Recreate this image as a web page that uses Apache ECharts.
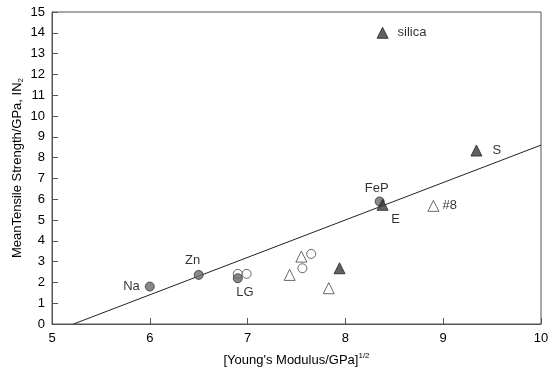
<!DOCTYPE html>
<html>
<head>
<meta charset="utf-8">
<script src="https://cdn.jsdelivr.net/npm/echarts@6/dist/echarts.min.js"></script>
<style>
  html, body { margin: 0; padding: 0; background: #fff; }
  #chart { width: 550px; height: 372px; }
</style>
</head>
<body>
<div id="chart"></div>
<script>
// data: [sqrt(E), strength]
const filledCircles = [[6.0, 1.8], [6.5, 2.36], [6.9, 2.2], [8.35, 5.89]];
const filledCircleNames = ['Na', 'Zn', 'LG', 'FeP'];
const openCircles = [[6.9, 2.41], [6.99, 2.41], [7.56, 2.68], [7.65, 3.37]];
const filledTriangles = [[7.94, 2.68], [8.38, 5.73], [9.34, 8.34], [8.38, 14.0]];
const filledTriangleNames = ['', 'E', 'S', 'silica'];
const openTriangles = [[7.43, 2.36], [7.55, 3.24], [7.83, 1.72], [8.9, 5.68]];
const openTriangleNames = ['', '', '', '#8'];
const fitLine = [[5.22, 0], [10, 8.6]];

const FONT = 'Liberation Sans, Arial, sans-serif';

// label placement for each named point
const labelPos = {
  Na: { position: 'left', distance: 5 },
  Zn: { position: 'top', distance: 3, offset: [-6, 0] },
  LG: { position: 'bottom', distance: 3, offset: [7, 0] },
  FeP: { position: 'top', distance: 2, offset: [-3, 0] },
  E: { position: 'bottom', distance: 2, offset: [13, 0] },
  S: { position: 'right', distance: 10 },
  silica: { position: 'right', distance: 9 },
  '#8': { position: 'right', distance: 3 }
};

function withLabels(points, names) {
  return points.map((p, i) => {
    const n = names[i];
    if (!n) return { value: p };
    return {
      value: p,
      label: Object.assign({ show: true, formatter: n, color: '#000', fontSize: 13, fontFamily: FONT }, labelPos[n])
    };
  });
}

const chart = echarts.init(document.getElementById('chart'));
chart.setOption({
  animation: false,
  grid: {
    left: 52, right: 9, top: 12, bottom: 48,
    containLabel: false, outerBoundsMode: 'none',
    show: true, borderColor: '#555', borderWidth: 1
  },
  xAxis: {
    type: 'value', min: 5, max: 10, interval: 1,
    name: '{b|[Young\'s Modulus/GPa]}{s|1/2}',
    nameLocation: 'middle', nameGap: 28,
    nameTextStyle: { rich: { b: { fontSize: 13, fontFamily: FONT, color: '#000' }, s: { fontSize: 8, fontFamily: FONT, color: '#000', verticalAlign: 'top', padding: [0, 0, 8, 0] } } },
    axisLine: { lineStyle: { color: '#555' } },
    axisTick: { inside: true, length: 6, lineStyle: { color: '#555' } },
    axisLabel: { color: '#000', fontSize: 13, fontFamily: FONT, margin: 8 },
    splitLine: { show: false }
  },
  yAxis: {
    type: 'value', min: 0, max: 15, interval: 1,
    name: '{b|MeanTensile Strength/GPa, IN}{s|2}',
    nameLocation: 'middle', nameGap: 27, nameRotate: 90, nameMoveOverlap: false,
    nameTextStyle: { rich: { b: { fontSize: 13, fontFamily: FONT, color: '#000' }, s: { fontSize: 8, fontFamily: FONT, color: '#000', padding: [8, 0, 0, 0] } } },
    axisLine: { lineStyle: { color: '#555' } },
    axisTick: { inside: true, length: 6, lineStyle: { color: '#555' } },
    axisLabel: { color: '#000', fontSize: 13, fontFamily: FONT, margin: 7 },
    splitLine: { show: false }
  },
  series: [
    {
      type: 'line', data: fitLine, symbol: 'none',
      lineStyle: { color: '#222', width: 1 }, z: 1
    },
    {
      type: 'scatter', data: openCircles, symbol: 'circle', symbolSize: 9,
      itemStyle: { color: '#fff', borderColor: '#444', borderWidth: 1 }, z: 2
    },
    {
      type: 'scatter', data: withLabels(filledCircles, filledCircleNames), symbol: 'circle', symbolSize: 9,
      itemStyle: { color: '#6a6a6a', borderColor: '#333', borderWidth: 1 }, z: 3
    },
    {
      type: 'scatter', data: withLabels(openTriangles, openTriangleNames), symbol: 'triangle', symbolSize: 11,
      itemStyle: { color: '#fff', borderColor: '#444', borderWidth: 1 }, z: 2
    },
    {
      type: 'scatter', data: withLabels(filledTriangles, filledTriangleNames), symbol: 'triangle', symbolSize: 11,
      itemStyle: { color: '#3a3a3a', borderColor: '#222', borderWidth: 1 }, z: 3
    }
  ]
});
</script>
</body>
</html>
